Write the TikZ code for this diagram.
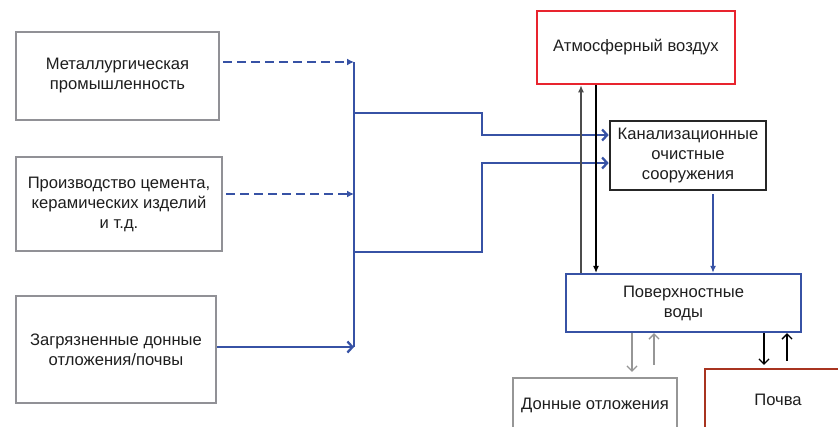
\documentclass[tikz,border=0pt]{standalone}
\usepackage{fontspec}
\setmainfont{Liberation Sans}
\usetikzlibrary{arrows.meta}
\definecolor{myblue}{RGB}{55,82,165}
\definecolor{boxgray}{RGB}{145,145,150}
\definecolor{lgray}{RGB}{150,150,150}
\definecolor{myred}{RGB}{232,36,46}
\definecolor{brownred}{RGB}{168,52,32}
\definecolor{txt}{RGB}{30,30,30}
\tikzset{
  box/.style={draw, inner sep=0pt, align=center, text=txt,
    font=\fontsize{16.6}{20}\selectfont},
  gbox/.style={box, draw=boxgray, line width=2.4pt},
  bline/.style={draw=myblue, line width=2.3pt},
  barb/.style={-{Straight Barb[length=5pt,width=11pt]}},
  ftip/.style={-{Latex[length=7pt,width=6pt]}},
}
\begin{document}
\begin{tikzpicture}[x=1pt,y=-1pt]
\useasboundingbox (0,0) rectangle (838,426);
\begin{scope}
\clip (0,0) rectangle (838,426);
\node[gbox, minimum width=203pt, minimum height=88pt] (met) at (117.5,76) {Металлургическая\\промышленность};
\node[gbox, minimum width=206pt, minimum height=94pt] (cem) at (119,204) {Производство цемента,\\керамических изделий\\и т.д.};
\node[gbox, minimum width=200pt, minimum height=107pt] (sed) at (116,349.5) {Загрязненные донные\\отложения/почвы};
\node[box, draw=myred, line width=2.6pt, minimum width=198pt, minimum height=73pt] (atm) at (636,47.5) {Атмосферный воздух};
\node[box, draw=black!85, line width=2.6pt, minimum width=156pt, minimum height=69pt] (can) at (688,155.5) {Канализационные\\очистные\\сооружения};
\node[box, draw=myblue, line width=2.3pt, minimum width=235pt, minimum height=58pt] (sur) at (683.5,303) {Поверхностные\\воды};
\node[box, draw=lgray, line width=2.3pt, minimum width=164pt, minimum height=54pt] (don) at (595,405) {Донные отложения};
\node[box, draw=brownred, line width=2.3pt, minimum width=146pt, minimum height=62pt] (soil) at (778,400) {Почва};

\coordinate (bt) at (354,62);
\coordinate (b2) at (354,194);
\coordinate (bb) at (354,347);
\coordinate (j1) at (354,113);
\coordinate (j2) at (354,252);

% dashed inputs
\draw[bline, dash pattern=on 9pt off 5pt, -{Latex[length=7pt,width=7pt]}] ([yshift=14pt]met.east) ++(3,0) -- (bt);
\draw[bline, dash pattern=on 9pt off 5pt, -{Latex[length=7pt,width=7pt]}] ([yshift=10pt]cem.east) ++(3,0) -- (b2);
\draw[bline, barb] ([yshift=2.5pt]sed.east) -- (bb);
% bus
\draw[bline] (bt) -- (bb);
% branches to canal
\draw[bline, barb] (j1) -- (482,113) -- (482,135) -- ([yshift=20.5pt]can.west);
\draw[bline, barb] (j2) -- (482,252) -- (482,163) -- ([yshift=-7.5pt]can.west);
% atmosphere links
\draw[draw=black!70, line width=1.3pt, ftip] ([xshift=-102.5pt]sur.north) -- ([xshift=-55pt]atm.south);
\draw[draw=black, line width=1.1pt, ftip] ([xshift=-40pt]atm.south) -- ([xshift=-87.5pt]sur.north);
% canal to surface
\draw[bline, ftip] ([xshift=25pt]can.south) ++(0,3) -- ([xshift=29.5pt]sur.north);
% surface to sediments
\draw[draw=lgray, line width=1.3pt, -{Straight Barb[length=5pt,width=10pt]}, shorten >=5pt] ([xshift=-51.5pt]sur.south) -- ([xshift=37pt]don.north);
\draw[draw=lgray, line width=1.3pt, -{Straight Barb[length=5pt,width=10pt]}] ([xshift=59pt,yshift=12pt]don.north) -- ([xshift=-29.5pt]sur.south);
% surface to soil
\draw[draw=black, line width=1.3pt, -{Straight Barb[length=5pt,width=10pt]}, shorten >=3pt] ([xshift=80.5pt]sur.south) -- ([xshift=-14pt]soil.north);
\draw[draw=black, line width=1.3pt, -{Straight Barb[length=5pt,width=10pt]}] ([xshift=9pt,yshift=7pt]soil.north) -- ([xshift=103.5pt]sur.south);
\end{scope}
\end{tikzpicture}
\end{document}
